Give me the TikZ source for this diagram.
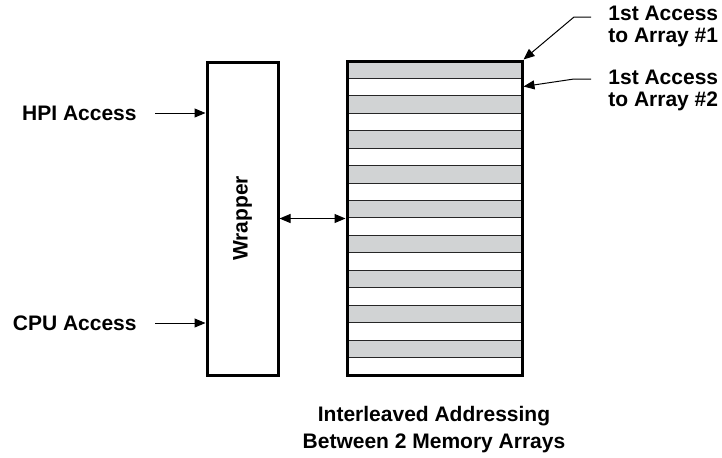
\documentclass[tikz,border=0pt]{standalone}
\usepackage{fontspec}
\setmainfont{Liberation Sans}
\usetikzlibrary{arrows.meta,positioning}

\definecolor{stripegray}{RGB}{209,211,212}

\tikzset{
    blk/.style={draw, line width=1.5pt, inner sep=0pt},
    lbl/.style={font=\fontsize{10.5}{11}\selectfont\bfseries, inner sep=0pt},
    arr/.style={-{Triangle[length=5.5pt,width=4.5pt]}, line width=0.5pt},
    dblarr/.style={{Triangle[length=5.5pt,width=4.5pt]}-{Triangle[length=5.5pt,width=4.5pt]}, line width=0.5pt},
    sep/.style={line width=0.5pt, black!85}
}

\begin{document}
\begin{tikzpicture}[x=0.5pt,y=-0.5pt]
    \useasboundingbox (0,0) rectangle (722,457);

    % memory array stripes
    \foreach \i in {0,...,8}
        \fill[stripegray] (347,{61+2*\i*17.44}) rectangle (522,{61+(2*\i+1)*17.44});
    \foreach \j in {1,...,17}
        \draw[sep] (347,{61+\j*17.44}) -- (522,{61+\j*17.44});

    \node[blk, minimum width=87.5pt, minimum height=157pt] (mem) at (434.5,218) {};
    \node[blk, minimum width=35.5pt, minimum height=156.5pt] (wrap) at (242.5,218.5) {};
    \node[lbl, rotate=90] (wraptxt) at (wrap.center) {Wrapper};

    % inputs
    \node[lbl, anchor=east] (hpi) at (137,113) {HPI Access};
    \node[lbl, anchor=east] (cpu) at (137,323) {CPU Access};
    \draw[arr] ([xshift=9pt]hpi.east) -- (hpi.east -| wrap.west);
    \draw[arr] ([xshift=9pt]cpu.east) -- (cpu.east -| wrap.west);

    \draw[dblarr] (wrap.east) -- (wrap.east -| mem.west);

    % first accesses
    \node[lbl, anchor=base west, align=left] (acc1) at (608,42) {1st Access\\to Array \#1};
    \node[lbl, anchor=base west, align=left] (acc2) at (608,106) {1st Access\\to Array \#2};
    \coordinate (k1s) at (591,17);
    \coordinate (k1) at (574,17);
    \coordinate (k2s) at (591,79);
    \coordinate (k2) at (574,79);
    \draw[arr] (k1s) -- (k1) -- (mem.north east);
    \draw[arr] (k2s) -- (k2) -- ([yshift=-13.5pt]mem.north east);

    \node[lbl, anchor=base, align=center, font=\fontsize{10.5}{13.5}\selectfont\bfseries] (cap) at (434,448)
        {Interleaved Addressing\\Between 2 Memory Arrays};
\end{tikzpicture}
\end{document}
